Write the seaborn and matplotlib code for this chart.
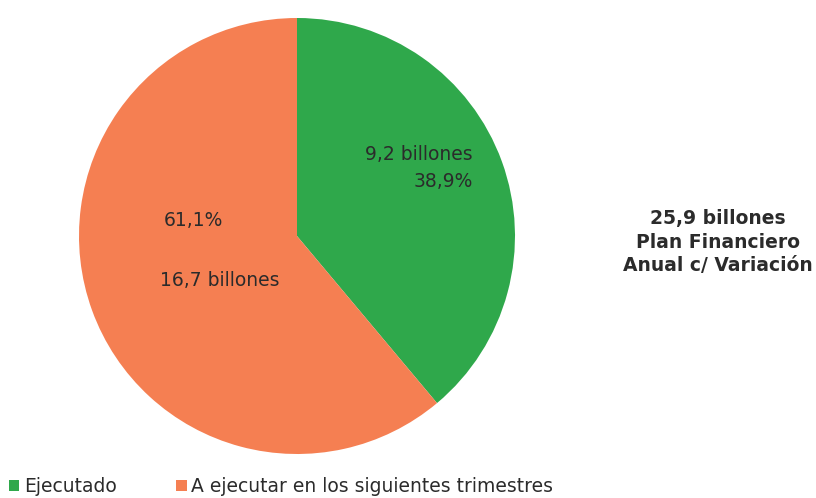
import matplotlib
matplotlib.use("Agg")
import matplotlib.pyplot as plt
from matplotlib.patches import Patch
import seaborn as sns

sns.set_theme(style="white")
plt.rcParams['font.family'] = ['DejaVu Sans']

# data
categorias = ["Ejecutado", "A ejecutar en los siguientes trimestres"]
porcentajes = [38.9, 61.1]
montos = ["9,2 billones", "16,7 billones"]
total = "25,9 billones\nPlan Financiero\nAnual c/ Variación"
colores = ["#2fa84b", "#f57f52"]

fig = plt.figure(figsize=(8.16, 4.98), dpi=100)
ax = fig.add_axes([79 / 816, 44 / 498, 436 / 816, 436 / 498])

ax.pie(porcentajes, colors=colores, startangle=90, counterclock=False,
       radius=1, wedgeprops=dict(linewidth=0))
ax.set_xlim(-1, 1)
ax.set_ylim(-1, 1)
ax.set_aspect('auto')
ax.axis('off')

pct = [f"{p:.1f}%".replace(".", ",") for p in porcentajes]
txt_color = "#2b2b2b"
fs = 13.5
ax.text(0.807, 0.372, montos[0], ha='right', va='center', fontsize=fs, color=txt_color)
ax.text(0.807, 0.248, pct[0], ha='right', va='center', fontsize=fs, color=txt_color)
ax.text(-0.477, 0.073, pct[1], ha='center', va='center', fontsize=fs, color=txt_color)
ax.text(-0.353, -0.202, montos[1], ha='center', va='center', fontsize=fs, color=txt_color)

fig.text(718 / 816, 1 - 242 / 498, total, ha='center', va='center', fontsize=13.5,
         fontweight='bold', color=txt_color, linespacing=1.3)

handles = [Patch(facecolor=c, edgecolor='none') for c in colores]
fig.legend(handles, categorias, loc='lower left', bbox_to_anchor=(-0.01, -0.03),
           ncol=2, frameon=False, fontsize=fs, handlelength=0.55, handleheight=0.55,
           handletextpad=0.25, columnspacing=3.2, labelcolor=txt_color)

fig.savefig("out.png", dpi=100, facecolor='white')
